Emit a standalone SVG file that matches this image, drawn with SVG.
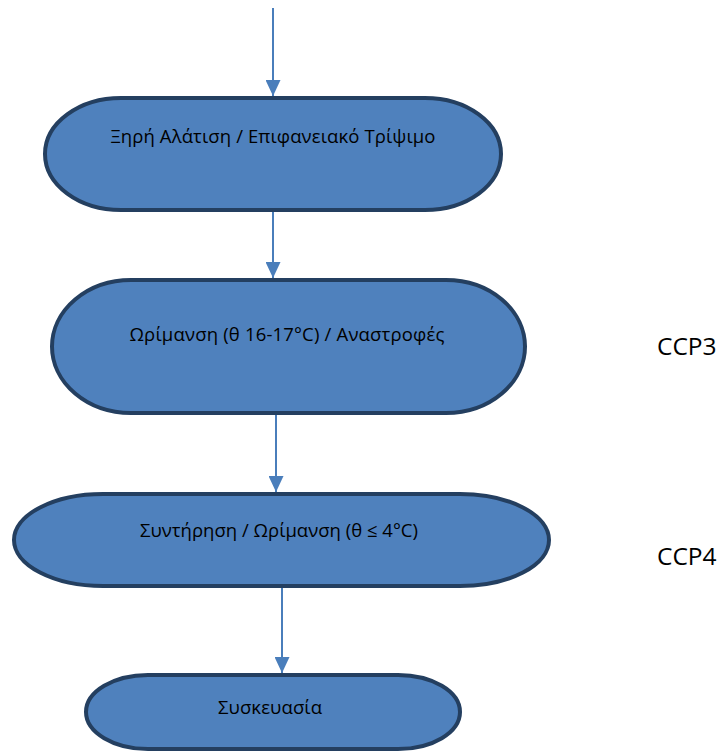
<svg xmlns="http://www.w3.org/2000/svg" width="723" height="753" viewBox="0 0 723 753">
<defs>
<style>
.node{fill:#4F81BD;stroke:#243F60;stroke-width:4}
.lbl{font-family:"Open Sans","Noto Sans","DejaVu Sans",sans-serif;font-size:18.5px;fill:#000;text-anchor:middle}
.ccp{font-family:"Open Sans","Noto Sans","DejaVu Sans",sans-serif;font-size:24.5px;fill:#000}
.conn{stroke:#4A7EBB;stroke-width:2;fill:none}
</style>
<marker id="arr" viewBox="0 0 16 15" refX="16" refY="7.5" markerWidth="16" markerHeight="15" markerUnits="userSpaceOnUse" orient="auto">
<path d="M0,0 L16,7.5 L0,15 Z" fill="#4A7EBB"/>
</marker>
</defs>
<rect width="723" height="753" fill="#fff"/>
<g id="connectors">
<line class="conn" x1="273" y1="8" x2="273" y2="96" marker-end="url(#arr)"/>
<line class="conn" x1="273" y1="212" x2="273" y2="278" marker-end="url(#arr)"/>
<line class="conn" x1="276" y1="415" x2="276" y2="492" marker-end="url(#arr)"/>
<line class="conn" x1="282" y1="588" x2="282" y2="673" marker-end="url(#arr)"/>
</g>
<g id="n1">
<rect class="node" x="45" y="98" width="456" height="112" rx="76" ry="56"/>
<text class="lbl" x="273" y="143" textLength="325">Ξηρή Αλάτιση / Επιφανειακό Τρίψιμο</text>
</g>
<g id="n2">
<rect class="node" x="52" y="280" width="473" height="133" rx="79" ry="66.5"/>
<text class="lbl" x="287" y="341" textLength="315">Ωρίμανση (θ 16-17°C) / Αναστροφές</text>
</g>
<g id="n3">
<rect class="node" x="14" y="494" width="535" height="92" rx="89" ry="46"/>
<text class="lbl" x="279" y="537" textLength="278">Συντήρηση / Ωρίμανση (θ ≤ 4°C)</text>
</g>
<g id="n4">
<rect class="node" x="86" y="675" width="374" height="74" rx="62" ry="37"/>
<text class="lbl" x="270" y="714" textLength="104">Συσκευασία</text>
</g>
<g id="ccp3"><text class="ccp" x="657" y="355">CCP3</text></g>
<g id="ccp4"><text class="ccp" x="657" y="565">CCP4</text></g>
</svg>
